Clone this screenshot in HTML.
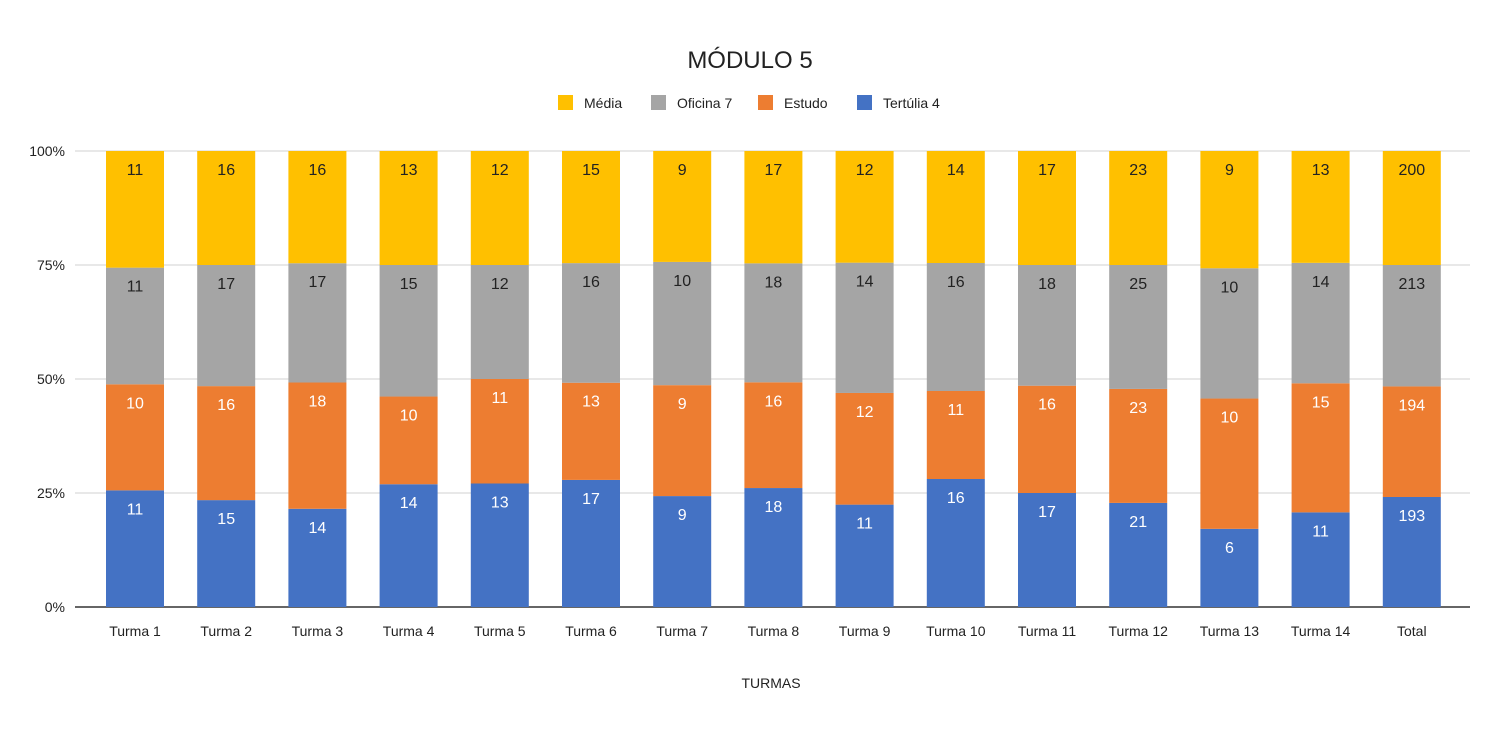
<!DOCTYPE html>
<html><head><meta charset="utf-8"><style>
body{margin:0;background:#fff;font-family:"Liberation Sans",sans-serif;}
svg text{font-family:"Liberation Sans",sans-serif;}
</style></head><body>
<svg id="c" width="1501" height="728">
<text x="750" y="68" text-anchor="middle" font-size="24" fill="#222">MÓDULO 5</text>
<g id="legend"></g>
<g id="grid"></g>
<g id="bars"></g>
<g id="xl"></g>
<text x="771" y="688" text-anchor="middle" font-size="14" fill="#222">TURMAS</text>
</svg>
<script>
const categories=["Turma 1","Turma 2","Turma 3","Turma 4","Turma 5","Turma 6","Turma 7","Turma 8","Turma 9","Turma 10","Turma 11","Turma 12","Turma 13","Turma 14","Total"];
const seriesNames=["Tertúlia 4","Estudo","Oficina 7","Média"];
const tertulia=[11,15,14,14,13,17,9,18,11,16,17,21,6,11,193];
const estudo=[10,16,18,10,11,13,9,16,12,11,16,23,10,15,194];
const oficina=[11,17,17,15,12,16,10,18,14,16,18,25,10,14,213];
const media=[11,16,16,13,12,15,9,17,12,14,17,23,9,13,200];
const yTicks=["0%","25%","50%","75%","100%"];
const colors=["#4472c4","#ed7d31","#a5a5a5","#ffc000"];
const NS="http://www.w3.org/2000/svg";
const y0=607,y1=151,xStart=135,xStep=91.2,bw=58;
const yScale=p=>y0-(y0-y1)*p;
const xScale=i=>xStart+i*xStep;
function mk(t,a,p){const e=document.createElementNS(NS,t);for(const k in a)e.setAttribute(k,a[k]);p.appendChild(e);return e;}
const grid=document.getElementById('grid');
yTicks.forEach((t,i)=>{const y=yScale(i/4);
 const l=mk('line',{x1:75,x2:1470,y1:y,y2:y,stroke:i==0?'#333':'#d0d0d0','stroke-width':i==0?1.5:1},grid);
 
 
 const tx=mk('text',{x:65,y:y+5,'text-anchor':'end','font-size':14,fill:'#222'},grid);tx.textContent=t;
 
 
});
const series=[tertulia,estudo,oficina,media];
const bars=document.getElementById('bars');
categories.forEach((c,i)=>{
 const tot=series.reduce((s,a)=>s+a[i],0);let acc=0;
 series.forEach((a,k)=>{
  const yb=yScale(acc/tot);acc+=a[i];const yt=yScale(acc/tot);
  const r=mk('rect',{x:xScale(i)-bw/2,y:yt,width:bw,height:yb-yt,fill:colors[k]},bars);
  
  
  const t=mk('text',{x:xScale(i),y:yt+24,'text-anchor':'middle','font-size':16,fill:k==3||k==2?'#222':'#fff'},bars);
  t.textContent=a[i];
  
  
 });
 const xt=mk('text',{x:xScale(i),y:636,'text-anchor':'middle','font-size':14,fill:'#222'},document.getElementById('xl'));
 xt.textContent=c;
 
 
});
const lg=document.getElementById('legend');
const lx=[558,651,758,857];
[3,2,1,0].forEach((k,j)=>{
 const r=mk('rect',{x:lx[j],y:95,width:15,height:15,fill:colors[k]},lg);
 
 
 const t=mk('text',{x:lx[j]+26,y:108,'font-size':14,fill:'#222'},lg);t.textContent=seriesNames[k];
 
 
});
</script>
</body></html>
